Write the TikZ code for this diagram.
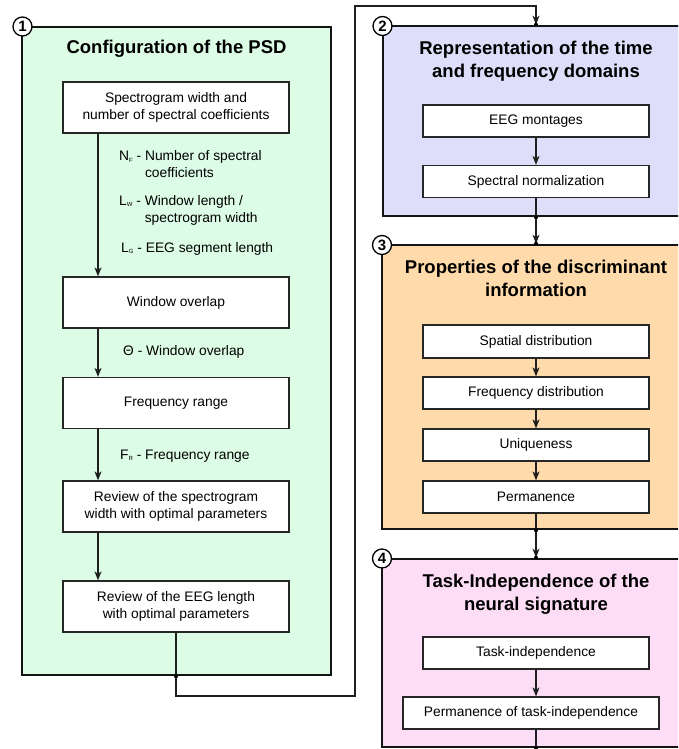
\documentclass[tikz,border=0pt]{standalone}
\usepackage{fontspec}
\setmainfont{Liberation Sans}
\usetikzlibrary{arrows.meta}

\definecolor{psdgreen}{RGB}{221,252,229}
\definecolor{domlav}{RGB}{222,222,250}
\definecolor{propeach}{RGB}{255,218,170}
\definecolor{taskpink}{RGB}{252,221,245}

% small subscript used in the parameter notes
\newcommand{\psub}[1]{\raisebox{-1.2pt}{\fontsize{6}{6}\selectfont #1}}

\tikzset{
  panel/.style={rectangle, draw=black!92, line width=2.6pt, inner sep=0pt},
  stepbox/.style={rectangle, draw=black!85, line width=1.2pt, fill=white,
    inner sep=0pt, align=center, font=\fontsize{13.8}{17}\selectfont},
  wide/.style={minimum width=226pt, minimum height=51pt},
  slim/.style={minimum width=226pt, minimum height=32pt},
  paneltitle/.style={font=\bfseries\fontsize{18.5}{23}\selectfont, align=center, inner sep=0pt},
  numtag/.style={circle, draw=black, fill=white, line width=1.3pt, inner sep=0pt,
    minimum size=19pt, font=\bfseries\fontsize{15}{15}\selectfont},
  note/.style={anchor=west, align=left, inner sep=0pt, font=\fontsize{13.8}{17}\selectfont},
  link/.style={draw=black!88, line width=1.3pt},
  arr/.style={link, -{Stealth[length=9pt,width=7pt,inset=2.5pt]}},
  jdot/.style={circle, fill=black, inner sep=0pt, minimum size=4pt}
}

\begin{document}
\begin{tikzpicture}[x=1pt, y=-1pt]
\useasboundingbox (0,0) rectangle (678,749);
\clip (0,0) rectangle (678,749);

% ---------- panels ----------
\node[panel, fill=psdgreen, minimum width=309pt, minimum height=648pt] (p1) at (176.5,351) {};
\node[panel, fill=domlav,   minimum width=317pt, minimum height=190pt] (p2) at (541.5,121) {};
\node[panel, fill=propeach, minimum width=318pt, minimum height=284pt] (p3) at (541,387) {};
\node[panel, fill=taskpink, minimum width=318pt, minimum height=188pt] (p4) at (541,653) {};

% ---------- panel titles ----------
\node[paneltitle] (t1) at (176.5,49) {Configuration of the PSD};
\node[paneltitle] (t2) at (536,61.5) {Representation of the time\\and frequency domains};
\node[paneltitle] (t3) at (536,278) {Properties of the discriminant\\information};
\node[paneltitle] (t4) at (536,594) {Task-Independence of the\\neural signature};

% ---------- panel 1 steps ----------
\node[stepbox, wide] (b1) at (176,107.5) {Spectrogram width and\\number of spectral coefficients};
\node[stepbox, wide] (b2) at (176,302.5) {Window overlap};
\node[stepbox, wide] (b3) at (176,403) {Frequency range};
\node[stepbox, wide] (b4) at (176,506.5) {Review of the spectrogram\\width with optimal parameters};
\node[stepbox, wide] (b5) at (176,606.5) {Review of the EEG length\\with optimal parameters};

\coordinate (col) at (98,0);
\draw[arr] (b1.south -| col) -- (b2.north -| col);
\draw[arr] (b2.south -| col) -- (b3.north -| col);
\draw[arr] (b3.south -| col) -- (b4.north -| col);
\draw[arr] (b4.south -| col) -- (b5.north -| col);

% parameter notes
\node[note] (nf) at (119,164.5) {N\psub{F} - Number of spectral\\\hphantom{N\psub{F} - }coefficients};
\node[note] (lw) at (119,210.5) {L\psub{W} - Window length /\\\hphantom{L\psub{W} - }spectrogram width};
\node[note] (lg) at (121,249) {L\psub{G} - EEG segment length};
\node[note] (th) at (123,352) {Θ - Window overlap};
\node[note] (fr) at (120,456) {F\psub{R} - Frequency range};

% ---------- panel 2 steps ----------
\node[stepbox, slim] (eeg) at (536,121) {EEG montages};
\node[stepbox, slim] (snorm) at (536,181.5) {Spectral normalization};
\draw[arr] (eeg) -- (snorm);

% ---------- panel 3 steps ----------
\node[stepbox, slim, minimum height=33pt] (spat) at (536,341.5) {Spatial distribution};
\node[stepbox, slim] (freq) at (536,393) {Frequency distribution};
\node[stepbox, slim] (uniq) at (536,445) {Uniqueness};
\node[stepbox, slim] (perm) at (536,497) {Permanence};
\draw[arr] (spat) -- (freq);
\draw[arr] (freq) -- (uniq);
\draw[arr] (uniq) -- (perm);

% ---------- panel 4 steps ----------
\node[stepbox, slim] (tind) at (536,653) {Task-independence};
\node[stepbox, minimum width=256pt, minimum height=32pt] (ptind) at (531,713) {Permanence of task-independence};
\draw[arr] (tind) -- (tind |- ptind.north);

% ---------- flow between panels ----------
\coordinate (lowturn) at (355,696);
\coordinate (topturn) at (536,6);
\draw[arr] (b5.south) |- (lowturn) |- (topturn) -- (topturn |- p2.north);
\draw[arr] (snorm.south) -- (snorm.south |- p3.north);
\draw[arr] (perm.south) -- (perm.south |- p4.north);
\draw[link] (ptind.south -| tind) -- (tind |- p4.south);

% junction dots where the flow crosses a panel border
\node[jdot] (j1) at (b5.south |- p1.south) {};
\node[jdot] (j2) at (topturn |- p2.north) {};
\node[jdot] (j3) at (snorm.south |- p2.south) {};
\node[jdot] (j4) at (snorm.south |- p3.north) {};
\node[jdot] (j5) at (perm.south |- p3.south) {};
\node[jdot] (j6) at (perm.south |- p4.north) {};
\node[jdot] (j7) at (tind |- p4.south) {};

% ---------- panel numbers ----------
\node[numtag] (n1) at (22.5,26.5) {1};
\node[numtag] (n2) at (382.5,26) {2};
\node[numtag] (n3) at (382,245) {3};
\node[numtag] (n4) at (382,558.5) {4};
\end{tikzpicture}
\end{document}
